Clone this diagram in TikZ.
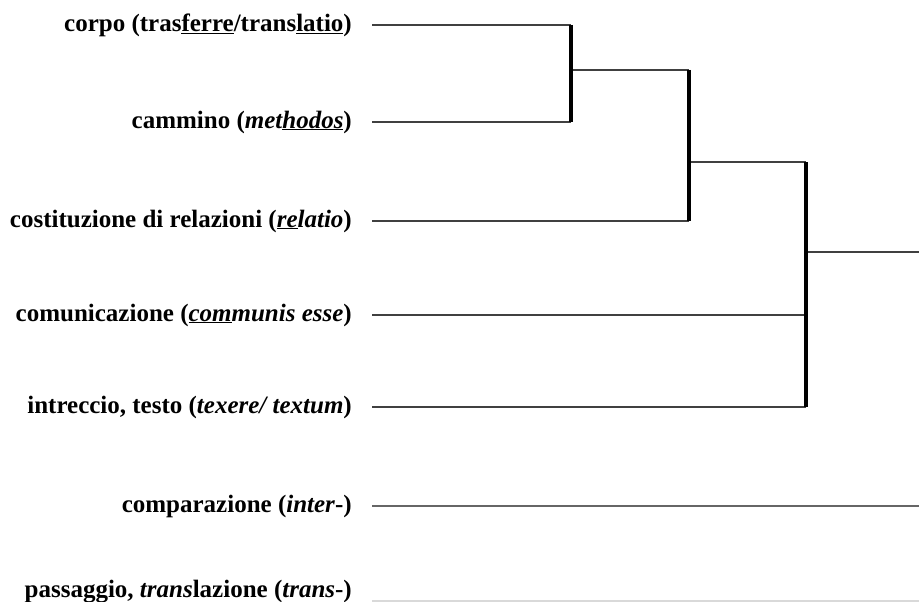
\documentclass[tikz,border=0pt]{standalone}
\usepackage{fontspec}
\setmainfont{Liberation Serif}
\begin{document}
\begin{tikzpicture}[x=1pt,y=-1pt,
  term/.style={anchor=east,inner sep=0pt,font=\fontsize{25}{29}\selectfont\bfseries},
  leaf/.style={draw=black!75,line width=1.6pt},
  spine/.style={draw=black,line width=4pt},
  link/.style={draw=black!75,line width=1.4pt}]
\useasboundingbox (0,0) rectangle (919,602);

% labels of the seven terms
\node[term] (t1) at (352,25)  {corpo (tras\underline{ferre}/trans\underline{latio})};
\node[term] (t2) at (352,122) {cammino\ (\textit{met\underline{hodos}})};
\node[term] (t3) at (352,221) {costituzione di relazioni (\textit{\underline{re}latio})};
\node[term] (t4) at (352,315) {comunicazione (\textit{\underline{com}munis esse})};
\node[term] (t5) at (352,407) {intreccio, testo (\textit{texere/ textum})};
\node[term] (t6) at (352,506) {comparazione (\textit{inter}-)};
\node[term] (t7) at (352,592) {passaggio, \textit{trans}lazione (\textit{trans}-)};

% starting points of the branches
\coordinate (s1) at (372,25);
\coordinate (s2) at (372,122);
\coordinate (s3) at (372,221);
\coordinate (s4) at (372,315);
\coordinate (s5) at (372,407);
\coordinate (s6) at (372,506);
\coordinate (s7) at (372,601);

% junctions
\coordinate (a1) at (571,25);  \coordinate (a2) at (571,122); \coordinate (am) at (571,70);
\coordinate (b1) at (689,70);  \coordinate (b2) at (689,221); \coordinate (bm) at (689,162);
\coordinate (c1) at (806,162); \coordinate (c2) at (806,407); \coordinate (cm) at (806,252);
\coordinate (e6) at (919,506); \coordinate (e7) at (919,601); \coordinate (root) at (919,252);

% leaf branches
\draw[leaf] (s1) -- (a1);
\draw[leaf] (s2) -- (a2);
\draw[leaf] (s3) -- (b2);
\draw[leaf] (s4) -- (c1 |- s4);
\draw[leaf] (s5) -- (c2);
\draw[leaf,draw=black!60] (s6) -- (e6);
\draw[draw=black!15,line width=1.2pt] (s7) -- (e7);

% links between clusters
\draw[link] (am) -- (b1);
\draw[link] (bm) -- (c1);
\draw[link] (cm) -- (root);

% vertical joins
\draw[spine] (a1) -- (a2);
\draw[spine] (b1) -- (b2);
\draw[spine] (c1) -- (c2);
\end{tikzpicture}
\end{document}
